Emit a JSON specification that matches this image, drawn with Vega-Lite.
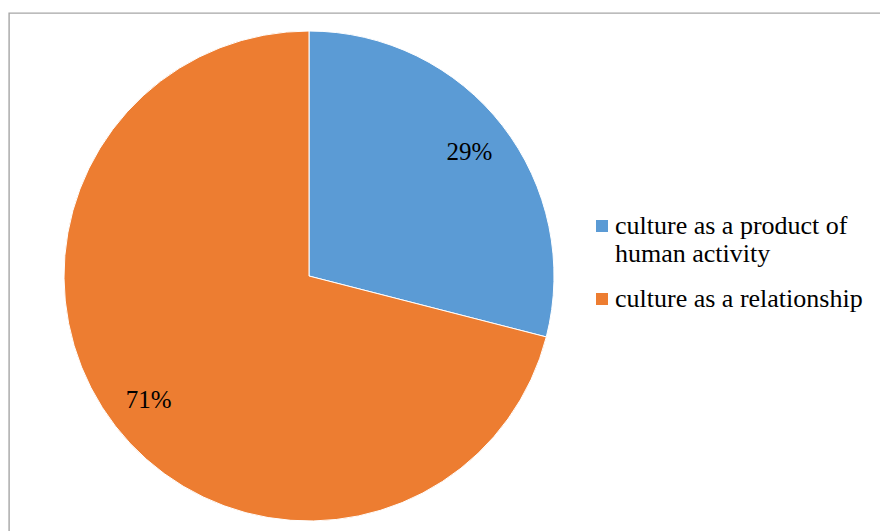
{
  "$schema": "https://vega.github.io/schema/vega-lite/v6.json",
  "width": 880,
  "height": 530,
  "autosize": {"type": "none"},
  "padding": {"left": 9, "top": 13, "right": 0, "bottom": 0},
  "background": "white",
  "view": {"stroke": "#A6A6A6", "strokeWidth": 1.4, "fill": "white"},
  "config": {
    "view": {"stroke": "#A6A6A6", "strokeWidth": 1.4},
    "font": "Liberation Serif"
  },
  "data": {
    "values": [
      {"category": "culture as a product of human activity", "value": 29, "label": "29%"},
      {"category": "culture as a relationship", "value": 71, "label": "71%"}
    ]
  },
  "encoding": {
    "theta": {"field": "value", "type": "quantitative", "stack": true},
    "color": {
      "field": "category",
      "type": "nominal",
      "scale": {
        "domain": ["culture as a product of human activity", "culture as a relationship"],
        "range": ["#5B9BD5", "#ED7D31"]
      },
      "legend": {
        "title": null,
        "orient": "none",
        "legendX": 580,
        "legendY": 200,
        "padding": 0,
        "symbolType": "square",
        "symbolSize": 144,
        "symbolStrokeWidth": 0,
        "symbolOpacity": 1,
        "labelFont": "Liberation Serif",
        "labelFontSize": 26,
        "labelLineHeight": 30,
        "labelColor": "black",
        "labelLimit": 400,
        "labelOffset": 0,
        "labelBaseline": "middle",
        "rowPadding": 19,
        "labelExpr": "datum.label == 'culture as a product of human activity' ? ['culture as a product of', 'human activity'] : datum.label"
      }
    }
  },
  "layer": [
    {
      "mark": {"type": "arc", "x": 300, "y": 263, "outerRadius": 245, "stroke": "white", "strokeWidth": 1}
    },
    {
      "mark": {"type": "text", "x": 300, "y": 263, "radius": 203, "font": "Liberation Serif", "fontSize": 25, "color": "black", "baseline": "middle", "align": "center"},
      "encoding": {
        "text": {"field": "label", "type": "nominal"},
        "color": {"value": "black"}
      }
    }
  ]
}
